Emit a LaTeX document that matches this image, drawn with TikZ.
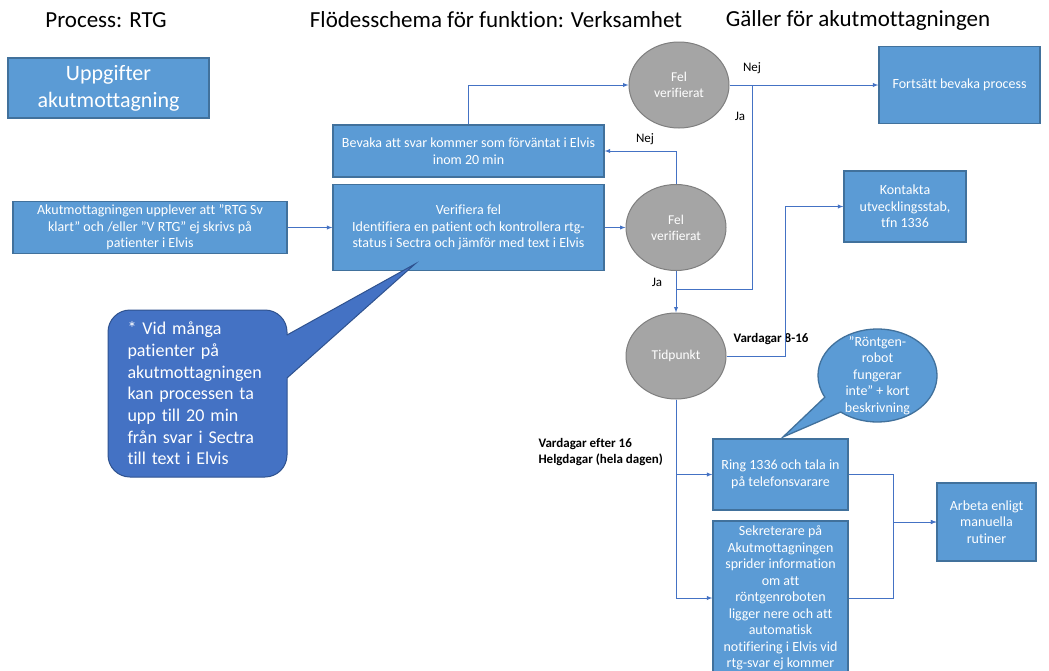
\documentclass[tikz,border=0pt]{standalone}
\usepackage{fontspec}
\setmainfont{Carlito}[Ligatures=CommonOff]
\usetikzlibrary{shapes.geometric, shapes.callouts, arrows}
\definecolor{boxfill}{HTML}{5B9BD5}
\definecolor{boxline}{HTML}{41719C}
\definecolor{circfill}{HTML}{A5A5A5}
\definecolor{circline}{HTML}{7F7F7F}
\definecolor{calloutfill}{HTML}{4472C4}
\definecolor{calloutline}{HTML}{2F528F}
\definecolor{linecol}{HTML}{4472C4}
\tikzstyle{title} = [font=\fontsize{23}{27}\selectfont]
\tikzstyle{task} = [rectangle,
text centered, align=center, text=white,
font=\fontsize{14}{16.5}\selectfont,
draw=boxline, line width=1.3pt, fill=boxfill]
\tikzstyle{decision} = [ellipse,
minimum width=100pt, minimum height=86pt,
text centered, align=center, text=white,
font=\fontsize{13.5}{16}\selectfont,
draw=circline, line width=1pt, fill=circfill]
\tikzstyle{answer} = [font=\fontsize{13}{16}\selectfont]
\tikzstyle{when} = [font=\bfseries\fontsize{13}{16}\selectfont, align=left]
\tikzstyle{line} = [draw=linecol, line width=0.9pt]
\tikzstyle{arrow} = [line, ->, >=latex]

\begin{document}
\begin{tikzpicture}[x=1pt, y=-1pt]
                \fill [white] (0,0) rectangle (1049,670);
                \useasboundingbox (0,0) rectangle (1049,670);

                \node (procname) [title] at (106,20) {Process: RTG};
                \node (flowname) [title] at (496,20) {Flödesschema för funktion: Verksamhet};
                \node (gaeller) [title] at (858,20) {Gäller för akutmottagningen};

                \node (uppgifter) [task, minimum width=201pt, minimum height=60pt, font=\fontsize{22}{27}\selectfont] at (108.5,88) {Uppgifter\\akutmottagning};
                \node (upplever) [task, minimum width=274pt, minimum height=51pt] at (150,227.5) {Akutmottagningen upplever att ”RTG Sv\\klart” och /eller ”V RTG” ej skrivs på\\patienter i Elvis};
                \node (bevaka) [task, minimum width=271pt, minimum height=52pt] at (468.5,151) {Bevaka att svar kommer som förväntat i Elvis\\inom 20 min};
                \node (verifiera) [task, minimum width=271pt, minimum height=86pt] at (468.5,227.5) {Verifiera fel\\Identifiera en patient och kontrollera rtg-\\status i Sectra och jämför med text i Elvis};
                \node (felA) [decision] at (679,85) {Fel\\verifierat};
                \node (felB) [decision] at (676,227.5) {Fel\\verifierat};
                \node (tidpunkt) [decision] at (676,356) {Tidpunkt};
                \node (fortsatt) [task, minimum width=161pt, minimum height=77pt] at (959.5,85) {Fortsätt bevaka process};
                \node (kontakta) [task, minimum width=122pt, minimum height=71pt] at (905,206.5) {Kontakta\\utvecklingsstab,\\tfn 1336};
                \node (ring) [task, minimum width=135pt, minimum height=71pt] at (780.5,474.5) {Ring 1336 och tala in\\på telefonsvarare};
                \node (sekreterare) [task, minimum width=135pt, minimum height=154pt] at (780.5,598) {Sekreterare på\\Akutmottagningen\\sprider information\\om att\\röntgenroboten\\ligger nere och att\\automatisk\\notifiering i Elvis vid\\rtg-svar ej kommer};
                \node (arbeta) [task, minimum width=99pt, minimum height=78pt] at (986.5,522) {Arbeta enligt\\manuella\\rutiner};

                % callouts
                \coordinate (robottip) at (783,437);
                \node (robot) [ellipse callout, callout absolute pointer={(robottip)}, callout pointer arc=24,
                    minimum width=119pt, minimum height=93pt, inner sep=0pt, draw=boxline, line width=1.3pt, fill=boxfill,
                    label={[text=white, align=center, font=\fontsize{14}{16.5}\selectfont]center:{”Röntgen-\\robot\\fungerar\\inte” + kort\\beskrivning}}] at (877.5,375.5) {};

                \node (vidmanga) [rectangle, rounded corners=22pt, minimum width=179pt, minimum height=167pt,
                    text width=140pt, align=left, text=white, font=\fontsize{18}{21.7}\selectfont,
                    draw=calloutline, line width=1pt, fill=calloutfill] at (197.5,393.5) {* Vid många\\patienter på\\akutmottagningen\\kan processen ta\\upp till 20 min\\från svar i Sectra\\till text i Elvis};
                \coordinate (vidtip) at (415,264);
                \fill [calloutfill] (283,337.2) -- (vidtip) -- (283,381.6) -- cycle;
                \draw [calloutline, line width=1pt] (287,335) -- (vidtip) -- (287,378);

                % labels
                \node (nejA) [answer] at (752,68) {Nej};
                \node (jaA) [answer] at (740,116) {Ja};
                \node (nejB) [answer] at (645,139) {Nej};
                \node (jaB) [answer] at (657,282) {Ja};
                \node (dagtid) [when] at (771,339) {Vardagar 8-16};
                \node (kvall) [when, anchor=west] at (535,452) {Vardagar efter 16\\Helgdagar (hela dagen)};

                \coordinate (splitA) at (752,85);
                \coordinate (joinB) at (676,289);

                \draw [arrow] (upplever) -- (verifiera);

                \draw [arrow] (verifiera) -- (felB);

                \draw [arrow] (felB) |- (bevaka);

                \draw [arrow] (bevaka.north) |- (felA);

                \draw [arrow] (felA) -- (fortsatt);
                \draw [line] (splitA) |- (joinB);

                \draw [arrow] (felB) -- (tidpunkt);

                \draw [arrow] (tidpunkt) -- ++ (109,0) |- (kontakta);

                \draw [arrow] (tidpunkt) |- (ring);
                \draw [arrow] (tidpunkt) |- (sekreterare);

                \draw [arrow] (ring) -- ++ (112.5,0) |- (arbeta);
                \draw [arrow] (sekreterare) -- ++ (112.5,0) |- (arbeta);
            \end{tikzpicture}
\end{document}
